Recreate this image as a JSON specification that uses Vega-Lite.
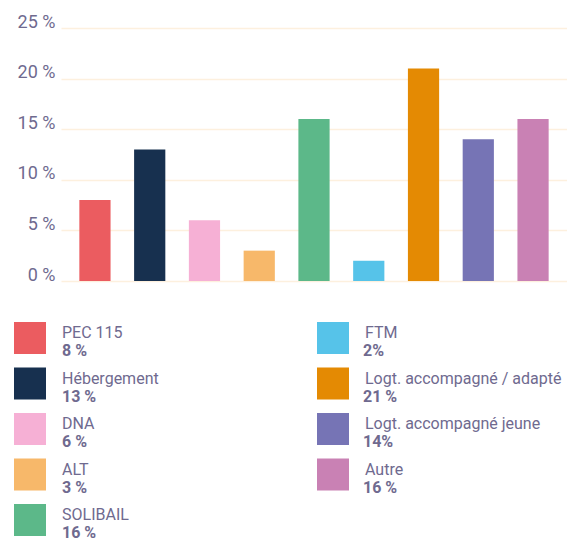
{
  "$schema": "https://vega.github.io/schema/vega-lite/v6.json",
  "width": 506,
  "height": 253,
  "autosize": {"type": "none"},
  "padding": {"left": 61, "top": 28, "right": 0, "bottom": 260},
  "background": "white",
  "config": {"view": {"stroke": null}, "font": "Roboto"},
  "data": {
    "values": [
      {"name": "PEC 115", "value": 8, "entry": "PEC 115|8 %"},
      {"name": "Hébergement", "value": 13, "entry": "Hébergement|13 %"},
      {"name": "DNA", "value": 6, "entry": "DNA|6 %"},
      {"name": "ALT", "value": 3, "entry": "ALT|3 %"},
      {"name": "SOLIBAIL", "value": 16, "entry": "SOLIBAIL|16 %"},
      {"name": "FTM", "value": 2, "entry": "FTM|2%"},
      {"name": "Logt. accompagné / adapté", "value": 21, "entry": "Logt. accompagné / adapté|21 %"},
      {"name": "Logt. accompagné jeune", "value": 14, "entry": "Logt. accompagné jeune|14%"},
      {"name": "Autre", "value": 16, "entry": "Autre|16 %"}
    ]
  },
  "mark": {"type": "bar"},
  "encoding": {
    "x": {
      "field": "name",
      "type": "nominal",
      "sort": null,
      "axis": null,
      "scale": {"paddingInner": 0.43, "paddingOuter": 0.335}
    },
    "y": {
      "field": "value",
      "type": "quantitative",
      "scale": {"domain": [0, 25], "nice": false},
      "axis": {
        "values": [0, 5, 10, 15, 20, 25],
        "title": null,
        "domain": false,
        "ticks": false,
        "labelExpr": "datum.value + ' %'",
        "labelFont": "Roboto",
        "labelFontSize": 18,
        "labelColor": "#6f6a8f",
        "labelPadding": 6,
        "labelBaseline": "alphabetic",
        "labelOffset": -1,
        "gridColor": "#fdf0de",
        "gridWidth": 1.5
      }
    },
    "color": {
      "field": "name",
      "type": "nominal",
      "scale": {
        "domain": ["PEC 115", "Hébergement", "DNA", "ALT", "SOLIBAIL", "FTM", "Logt. accompagné / adapté", "Logt. accompagné jeune", "Autre"],
        "range": ["#eb5c60", "#17304f", "#f6b0d5", "#f7b86a", "#5cb889", "#56c3e9", "#e48a03", "#7674b5", "#c981b4"]
      },
      "legend": {
        "orient": "none",
        "legendX": -47,
        "legendY": 294,
        "columns": 2,
        "columnPadding": 158,
        "rowPadding": 13.5,
        "padding": 0,
        "title": null,
        "symbolType": "square",
        "symbolSize": 1024,
        "symbolStrokeWidth": 0,
        "symbolOpacity": 1,
        "labelFont": "Roboto",
        "labelFontSize": 16,
        "labelColor": "#6f6a8f",
        "labelOffset": 16,
        "labelLimit": 400,
        "labelBaseline": "alphabetic"
      }
    },
    "opacity": {
      "field": "entry",
      "type": "nominal",
      "scale": {
        "type": "point",
        "domain": ["PEC 115|8 %", "Hébergement|13 %", "DNA|6 %", "ALT|3 %", "SOLIBAIL|16 %", "FTM|2%", "Logt. accompagné / adapté|21 %", "Logt. accompagné jeune|14%", "Autre|16 %"],
        "range": [1, 1]
      },
      "legend": {
        "orient": "none",
        "legendX": -47,
        "legendY": 312,
        "columns": 2,
        "columnPadding": 218,
        "rowPadding": 13.5,
        "padding": 0,
        "title": null,
        "symbolType": "square",
        "symbolSize": 1024,
        "symbolStrokeWidth": 0,
        "symbolOpacity": 0,
        "symbolFillColor": "transparent",
        "symbolStrokeColor": "transparent",
        "labelFont": "Roboto",
        "labelFontSize": 16,
        "labelFontWeight": "bold",
        "labelColor": "#6f6a8f",
        "labelOffset": 16,
        "labelLimit": 400,
        "labelBaseline": "alphabetic",
        "labelExpr": "split(datum.label, '|')[1]"
      }
    }
  }
}
